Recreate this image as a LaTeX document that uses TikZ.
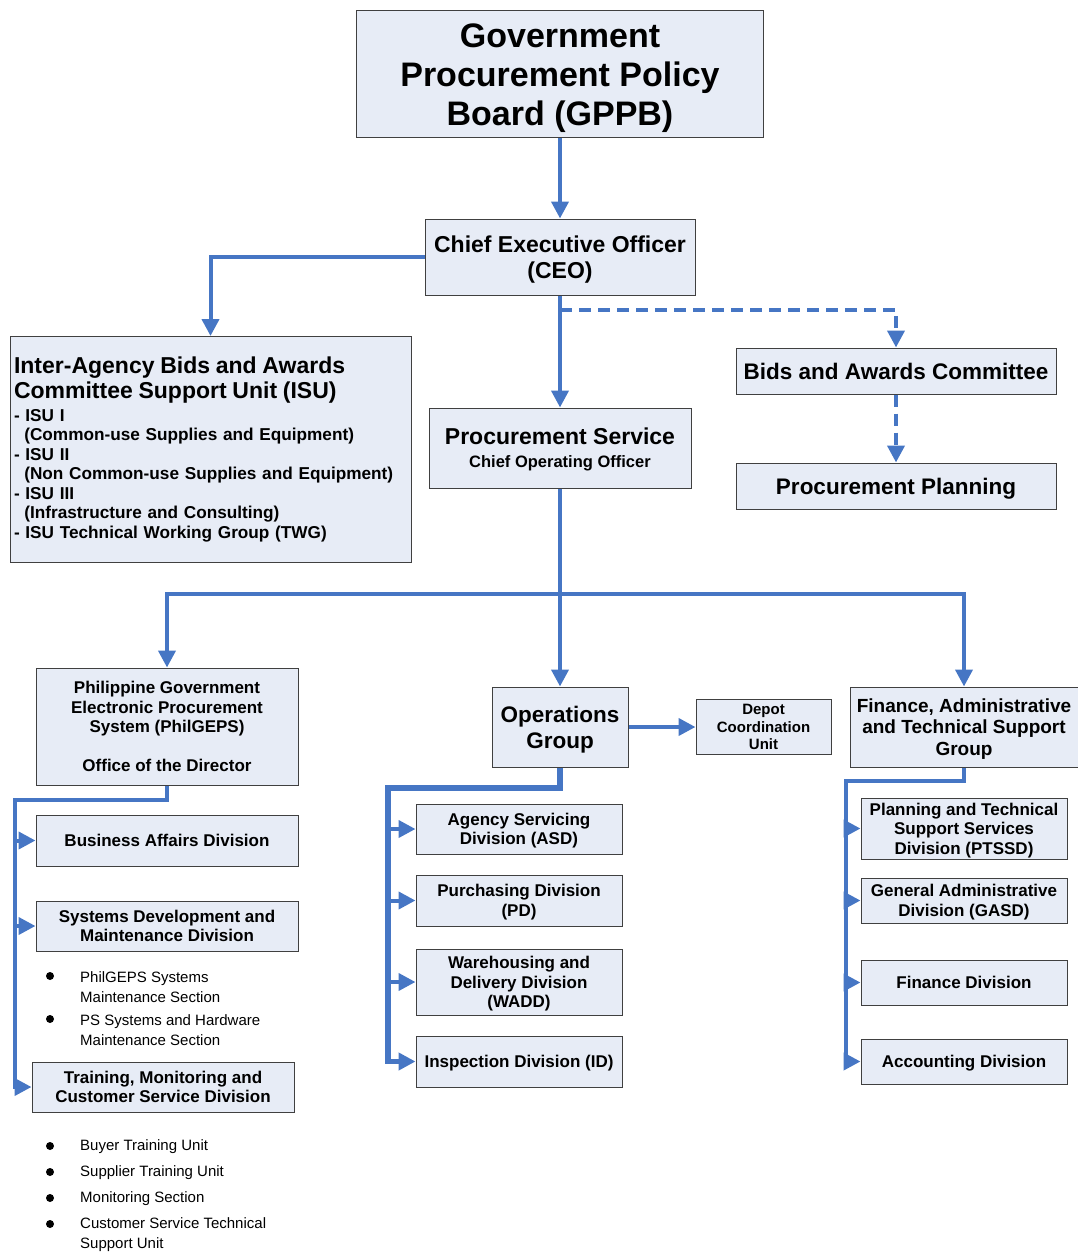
\documentclass[tikz,border=0pt]{standalone}
\usepackage{fontspec}
\setmainfont{Liberation Sans}
\usetikzlibrary{arrows.meta}
\definecolor{boxfill}{RGB}{231,236,246}
\definecolor{boxdraw}{RGB}{64,64,64}
\definecolor{conncol}{RGB}{70,118,196}
\newcommand{\fs}[2]{\fontsize{#1}{#2}\selectfont}
\tikzset{
  box/.style={draw=boxdraw, fill=boxfill, line width=1pt, inner sep=2pt, align=center, text depth=0pt},
  conn/.style={draw=conncol, line width=4pt, -{Triangle[length=17pt,width=17pt]}},
  plain/.style={draw=conncol, line width=4pt},
  dashconn/.style={draw=conncol, line width=4pt, dash pattern=on 12pt off 7pt, -{Triangle[length=17pt,width=17pt]}},
  item/.style={anchor=west, align=left, inner sep=0pt, font=\fs{15}{20}},
  dot/.style={fill=black, draw=none}
}
\begin{document}
\begin{tikzpicture}[x=1pt,y=-1pt]
\useasboundingbox (0,0) rectangle (1077,1252);

% top
\node[box, minimum width=407pt, minimum height=127pt, font=\fs{34}{39}\bfseries] (gppb) at (560,74.5) {Government\\Procurement Policy\\Board (GPPB)};
\node[box, minimum width=270pt, minimum height=76pt, font=\fs{23}{26}\bfseries] (ceo) at (560,257) {Chief Executive Officer\\(CEO)};
\node[box, text depth={}, minimum width=401pt, minimum height=226pt, text width=393pt, inner xsep=4pt, align=left, font=\fs{17.2}{19.5}\bfseries] (isu) at (210.5,449.5)
 {{\fs{23}{19.5}Inter-Agency Bids and Awards}\\[2pt]{\fs{23}{19.5}Committee Support Unit (ISU)}\\[3.5pt]- ISU I\\\hspace*{0.6em}(Common-use Supplies and Equipment)\\- ISU II\\\hspace*{0.6em}(Non Common-use Supplies and Equipment)\\- ISU III\\\hspace*{0.6em}(Infrastructure and Consulting)\\- ISU Technical Working Group (TWG)};
\node[box, minimum width=320pt, minimum height=46pt, font=\fs{22.5}{26}\bfseries] (bac) at (896,371) {Bids and Awards Committee};
\node[box, minimum width=320pt, minimum height=46pt, font=\fs{22.5}{26}\bfseries] (pp) at (896,486) {Procurement Planning};
\node[box, minimum width=262pt, minimum height=80pt, font=\fs{17}{23}\bfseries] (ps) at (560,448) {{\fs{23}{26}Procurement Service}\\{\fs{16.5}{20}Chief Operating Officer}};

% second level
\node[box, minimum width=262pt, minimum height=117pt, font=\fs{17}{19.5}\bfseries] (phil) at (167,726.5) {Philippine Government\\Electronic Procurement\\System (PhilGEPS)\\[19.5pt]Office of the Director};
\node[box, minimum width=136pt, minimum height=80pt, font=\fs{22.5}{26}\bfseries] (ops) at (560,727) {Operations\\Group};
\node[box, minimum width=135pt, minimum height=55pt, font=\fs{15}{17.5}\bfseries] (depot) at (763.5,727) {Depot\\Coordination\\Unit};
\node[box, minimum width=228pt, minimum height=80pt, font=\fs{19}{21.5}\bfseries] (fin) at (964,727) {Finance, Administrative\\and Technical Support\\Group};

% left column
\node[box, minimum width=262pt, minimum height=51pt, font=\fs{17}{19.5}\bfseries] (bad) at (167,840.5) {Business Affairs Division};
\node[box, minimum width=262pt, minimum height=50pt, font=\fs{17}{19.5}\bfseries] (sysdev) at (167,926) {Systems Development and\\Maintenance Division};
\node[box, minimum width=262pt, minimum height=50pt, font=\fs{17}{19.5}\bfseries] (train) at (163,1087) {Training, Monitoring and\\Customer Service Division};

% middle column
\node[box, minimum width=206pt, minimum height=50pt, font=\fs{17}{19.5}\bfseries] (asd) at (519,829) {Agency Servicing\\Division (ASD)};
\node[box, minimum width=206pt, minimum height=51pt, font=\fs{17}{19.5}\bfseries] (pd) at (519,900.5) {Purchasing Division\\(PD)};
\node[box, minimum width=206pt, minimum height=66pt, font=\fs{17}{19.5}\bfseries] (wadd) at (519,982) {Warehousing and\\Delivery Division\\(WADD)};
\node[box, minimum width=206pt, minimum height=51pt, font=\fs{17}{19.5}\bfseries] (idd) at (519,1061.5) {Inspection Division (ID)};

% right column
\node[box, minimum width=206pt, minimum height=61pt, font=\fs{17}{19.5}\bfseries] (ptssd) at (964,828.5) {Planning and Technical\\Support Services\\Division (PTSSD)};
\node[box, minimum width=206pt, minimum height=45pt, font=\fs{17}{19.5}\bfseries] (gasd) at (964,900.5) {General Administrative\\Division (GASD)};
\node[box, minimum width=206pt, minimum height=45pt, font=\fs{17}{19.5}\bfseries] (findiv) at (964,982.5) {Finance Division};
\node[box, minimum width=206pt, minimum height=45pt, font=\fs{17}{19.5}\bfseries] (acc) at (964,1061.5) {Accounting Division};

% bullet lists
\fill[dot] (50,976) circle (4pt);
\node[item] (b1) at (80,987) {PhilGEPS Systems\\Maintenance Section};
\fill[dot] (50,1019) circle (4pt);
\node[item] (b2) at (80,1030) {PS Systems and Hardware\\Maintenance Section};
\fill[dot] (50,1146) circle (4pt);
\node[item] (b3) at (80,1147) {Buyer Training Unit};
\fill[dot] (50,1172) circle (4pt);
\node[item] (b4) at (80,1173) {Supplier Training Unit};
\fill[dot] (50,1198) circle (4pt);
\node[item] (b5) at (80,1199) {Monitoring Section};
\fill[dot] (50,1224) circle (4pt);
\node[item] (b6) at (80,1234.5) {Customer Service Technical\\Support Unit};

% connectors
\draw[conn] (gppb.south) -- (ceo.north);
\draw[conn] (ceo.west) -| (isu.north);
\draw[conn] (ceo.south) -- (ps.north);
\coordinate (dj) at (560,310);
\draw[dashconn] (dj) -| (bac.north);
\draw[dashconn] (bac.south) -- (pp.north);

\coordinate (bus) at (560,594);
\draw[plain] (ps.south) -- (bus);
\draw[conn] (bus) -| (phil.north);
\draw[conn] (bus) -| (fin.north);
\draw[conn] (bus) -- (ops.north);
\draw[conn] (ops.east) -- (depot.west);

% PhilGEPS branch
\coordinate (lb) at (15,800);
\draw[conn] (phil.south) |- (lb) |- (train.west);
\draw[conn] (lb |- bad.west) -- (bad.west);
\draw[conn] (lb |- sysdev.west) -- (sysdev.west);

% Operations branch
\coordinate (ob) at (388,788);
\draw[conn, line width=5.5pt] (ops.south) |- (ob) |- (idd.west);
\draw[conn] (ob |- asd.west) -- (asd.west);
\draw[conn] (ob |- pd.west) -- (pd.west);
\draw[conn] (ob |- wadd.west) -- (wadd.west);

% Finance branch
\coordinate (fb) at (846,781);
\draw[conn] (fin.south) |- (fb) |- (acc.west);
\draw[conn] (fb |- ptssd.west) -- (ptssd.west);
\draw[conn] (fb |- gasd.west) -- (gasd.west);
\draw[conn] (fb |- findiv.west) -- (findiv.west);
\end{tikzpicture}
\end{document}
